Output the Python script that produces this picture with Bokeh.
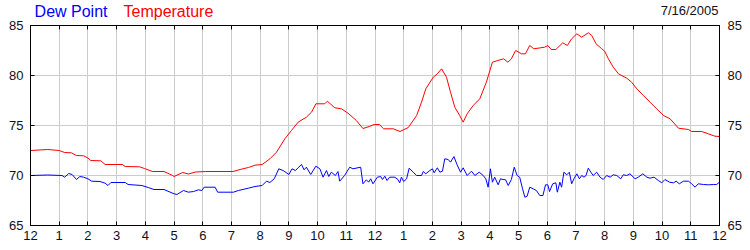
from bokeh.plotting import figure
from bokeh.models import Range1d, FixedTicker, LinearAxis, Label
from bokeh.layouts import column
from bokeh.embed import file_html
from bokeh.resources import INLINE

temp_hours = [0, 0.6, 1.0, 1.19, 1.42, 1.6, 1.85, 2.0, 2.1, 2.45, 2.6, 3.2, 3.3, 3.8, 3.97, 4.25, 4.65, 4.95, 5.0, 5.3,
              5.5, 5.75, 6.1, 7.06, 7.3, 7.59, 7.82, 8.07, 8.34, 8.57, 8.86, 9.09, 9.32, 9.61, 9.79, 9.94, 10.25, 10.34,
              10.6, 10.83, 11.06, 11.35, 11.58, 11.8, 11.97, 12.15, 12.3, 12.64, 12.87, 13.16, 13.45, 13.62, 13.77,
              14.03, 14.17, 14.32, 14.49, 14.63, 14.78, 14.95, 15.07, 15.21, 15.42, 15.65, 15.88, 16.09, 16.28, 16.48,
              16.63, 16.75, 16.9, 17.1, 17.24, 17.39, 17.53, 17.68, 17.91, 18.02, 18.14, 18.3, 18.54, 18.7, 18.85,
              19.03, 19.2, 19.43, 19.55, 19.7, 19.9, 20.0, 20.13, 20.3, 20.48, 20.77, 20.94, 21.12, 21.35, 21.58,
              21.81, 22.05, 22.28, 22.57, 22.92, 23.03, 23.38, 23.61, 23.84, 24.0]
temperature = [72.5, 72.6, 72.5, 72.3, 72.27, 72.0, 71.97, 71.75, 71.5, 71.47, 71.1, 71.1, 70.9, 70.87, 70.7, 70.4,
               70.4, 70.0, 69.9, 70.3, 70.15, 70.35, 70.4, 70.4, 70.6, 70.8, 71.03, 71.1, 71.67, 72.33, 73.67, 74.5,
               75.33, 75.83, 76.33, 77.17, 77.17, 77.43, 76.77, 76.67, 76.23, 75.5, 74.7, 74.9, 75.1, 75.1, 74.67,
               74.67, 74.4, 74.8, 76.0, 77.33, 78.67, 79.83, 80.17, 80.67, 79.83, 78.33, 76.83, 76.0, 75.33, 76.17,
               77.0, 77.67, 79.33, 81.33, 81.5, 81.67, 81.33, 81.67, 82.5, 82.17, 82.17, 83.0, 82.67, 82.73, 82.83,
               83.0, 82.6, 82.6, 83.27, 83.0, 83.67, 84.17, 83.83, 84.27, 84.0, 83.17, 82.67, 82.43, 81.67, 80.83,
               80.17, 79.73, 79.33, 78.67, 78.0, 77.33, 76.67, 76.0, 75.67, 74.73, 74.6, 74.4, 74.4, 74.17, 73.93,
               73.9]

dew_hours = [0, 0.6, 1.1, 1.19, 1.33, 1.45, 1.6, 1.72, 1.85, 2.0, 2.13, 2.42, 2.6, 2.7, 2.8, 3.3, 3.4, 3.88, 4.1, 4.3,
             4.65, 5.0, 5.1, 5.33, 5.5, 5.68, 5.85, 5.97, 6.05, 6.43, 6.52, 7.07, 7.24, 7.59, 7.82, 8.07, 8.22, 8.34,
             8.49, 8.65, 8.8, 9.0, 9.11, 9.23, 9.32, 9.44, 9.53, 9.61, 9.76, 9.94, 10.08, 10.19, 10.31, 10.39, 10.48,
             10.62, 10.71, 10.77, 10.94, 11.12, 11.23, 11.5, 11.58, 11.7, 11.78, 11.85, 11.93, 12.08, 12.2, 12.26,
             12.34, 12.42, 12.51, 12.69, 12.8, 12.86, 12.92, 13.0, 13.1, 13.19, 13.33, 13.45, 13.62, 13.68, 13.77,
             13.91, 14.0, 14.06, 14.17, 14.26, 14.35, 14.43, 14.55, 14.63, 14.75, 14.86, 14.98, 15.07, 15.21, 15.36,
             15.48, 15.63, 15.77, 15.86, 15.94, 16.02, 16.09, 16.17, 16.29, 16.37, 16.46, 16.55, 16.64, 16.75, 16.85,
             16.95, 17.04, 17.14, 17.22, 17.3, 17.39, 17.51, 17.62, 17.74, 17.85, 17.94, 18.02, 18.08, 18.19, 18.3,
             18.35, 18.44, 18.5, 18.58, 18.68, 18.77, 18.85, 18.93, 19.03, 19.12, 19.2, 19.28, 19.35, 19.43, 19.52,
             19.6, 19.72, 19.84, 19.95, 20.07, 20.19, 20.3, 20.42, 20.56, 20.65, 20.77, 20.88, 21.06, 21.17, 21.33,
             21.47, 21.58, 21.72, 21.87, 21.99, 22.1, 22.26, 22.4, 22.49, 22.6, 22.74, 22.92, 23.03, 23.15, 23.26,
             23.44, 23.61, 23.79, 23.9, 24.0]
dew_point = [70.0, 70.05, 70.0, 69.83, 70.2, 70.1, 69.6, 69.9, 69.83, 69.67, 69.43, 69.4, 69.23, 69.0, 69.3, 69.3,
             69.1, 69.0, 68.8, 68.6, 68.6, 68.17, 68.1, 68.5, 68.33, 68.4, 68.57, 68.5, 68.83, 68.83, 68.33, 68.33,
             68.5, 68.73, 68.9, 69.0, 69.43, 69.3, 69.67, 70.67, 70.5, 70.1, 70.67, 70.5, 70.77, 71.1, 70.57, 70.83,
             70.1, 70.93, 70.67, 69.83, 70.5, 69.9, 70.33, 70.0, 70.4, 69.43, 70.0, 70.83, 70.67, 70.83, 69.17, 69.57,
             69.33, 69.67, 69.17, 69.83, 69.9, 69.6, 69.93, 69.5, 69.83, 69.83, 69.6, 69.27, 69.83, 69.4, 69.67,
             70.73, 70.33, 70.0, 70.0, 70.4, 70.17, 70.5, 70.67, 70.27, 70.77, 70.33, 70.43, 71.67, 71.6, 71.33, 71.9,
             71.07, 70.33, 70.77, 70.0, 70.43, 70.0, 70.33, 70.0, 69.67, 68.83, 70.67, 69.33, 69.83, 69.07, 69.67,
             69.6, 69.57, 69.0, 69.6, 70.83, 70.0, 69.83, 68.67, 67.83, 67.93, 68.83, 68.67, 68.5, 68.0, 68.0, 69.07,
             69.07, 68.4, 69.17, 69.27, 68.33, 69.33, 68.83, 70.33, 70.07, 70.33, 69.17, 69.67, 70.17, 69.67, 70.0,
             69.83, 70.0, 70.73, 70.33, 70.0, 70.33, 69.83, 69.6, 70.0, 69.83, 70.07, 70.0, 69.67, 70.07, 70.0, 70.17,
             69.67, 69.83, 70.17, 69.83, 69.73, 69.83, 69.5, 69.27, 69.6, 69.33, 69.27, 69.43, 69.17, 69.43, 69.43,
             69.17, 68.83, 69.17, 69.1, 69.07, 69.1, 69.1, 69.33]

x_ticks = list(range(0, 25))
x_tick_labels = ["12", "1", "2", "3", "4", "5", "6", "7", "8", "9", "10", "11",
                 "12", "1", "2", "3", "4", "5", "6", "7", "8", "9", "10", "11", "12"]
y_ticks = [65, 70, 75, 80, 85]
series_names = ["Dew Point", "Temperature"]
series_colors = ["#0000FF", "#FF0000"]
date_text = "7/16/2005"

FONT = "Liberation Sans"
HEADER_H = 25

p = figure(width=750, height=250, output_backend="svg", toolbar_location=None,
           x_range=Range1d(0, 24), y_range=Range1d(65, 85),
           min_border_left=30, min_border_right=31, min_border_top=25, min_border_bottom=25,
           x_axis_location=None, y_axis_location=None)
p.background_fill_color = "white"
p.border_fill_color = "white"
p.outline_line_color = "black"
p.outline_line_width = 1

def style_axis(ax, standoff=5):
    ax.axis_line_color = "black"
    ax.major_tick_in = 4
    ax.major_tick_out = 0
    ax.minor_tick_in = 0
    ax.minor_tick_out = 0
    ax.major_tick_line_color = "black"
    ax.major_label_text_font = FONT
    ax.major_label_text_font_size = "13px"
    ax.major_label_text_color = "#101020"
    ax.major_label_standoff = standoff

xt = FixedTicker(ticks=x_ticks)
yt = FixedTicker(ticks=y_ticks)
overrides = {i: lab for i, lab in zip(x_ticks, x_tick_labels)}
blank = {i: "" for i in x_ticks}

bottom = LinearAxis(ticker=xt, major_label_overrides=overrides)
style_axis(bottom, 5)
p.add_layout(bottom, "below")
top = LinearAxis(ticker=xt, major_label_overrides=blank)
style_axis(top, 0)
p.add_layout(top, "above")
left = LinearAxis(ticker=yt)
style_axis(left, 7)
p.add_layout(left, "left")
right = LinearAxis(ticker=yt)
style_axis(right, 8)
p.add_layout(right, "right")

p.xgrid.ticker = xt
p.ygrid.ticker = yt
for g in (p.xgrid, p.ygrid):
    g.grid_line_color = "#CCCCCC"
    g.grid_line_width = 1

p.line(dew_hours, dew_point, line_color=series_colors[0], line_width=1)
p.line(temp_hours, temperature, line_color=series_colors[1], line_width=1)

# transparent header strip laid over the top margin of the chart
header = figure(width=750, height=HEADER_H, output_backend="svg", toolbar_location=None,
                x_range=Range1d(0, 24), y_range=Range1d(0, HEADER_H),
                min_border_left=30, min_border_right=31, min_border_top=0, min_border_bottom=0,
                x_axis_location=None, y_axis_location=None)
header.outline_line_color = None
header.background_fill_color = None
header.border_fill_color = None
header.xgrid.visible = False
header.ygrid.visible = False
header.margin = (-250, 0, 0, 0)
# "Dew Point" anchored at its right end, "Temperature" at its left end
for txt, col, xs, align in zip(series_names, series_colors, (77, 93), ("right", "left")):
    header.add_layout(Label(x=xs, y=14.5, x_units="screen", y_units="screen", text=txt,
                            text_color=col, text_font=FONT, text_font_size="16px",
                            text_baseline="alphabetic", text_align=align))
header.add_layout(Label(x=688, y=15, x_units="screen", y_units="screen", text=date_text,
                        text_color="#101020", text_font=FONT, text_font_size="13px",
                        text_baseline="alphabetic", text_align="right"))

layout = column(p, header, spacing=0)
open("out.html", "w").write(file_html(layout, INLINE))
